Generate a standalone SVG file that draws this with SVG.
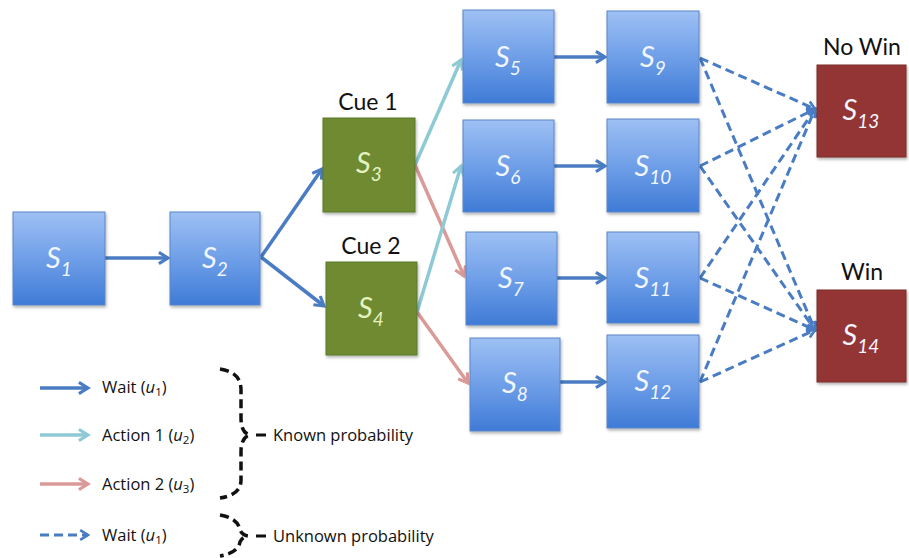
<svg xmlns="http://www.w3.org/2000/svg" width="909" height="558" viewBox="0 0 909 558">
<defs>
<linearGradient id="gb" x1="0" y1="0" x2="0" y2="1">
<stop offset="0" stop-color="#9ec0f4"/>
<stop offset="0.5" stop-color="#6f9fe8"/>
<stop offset="1" stop-color="#3f7bd6"/>
</linearGradient>
<filter id="sh" x="-10%" y="-10%" width="130%" height="130%">
<feDropShadow dx="1" dy="2" stdDeviation="1.5" flood-color="#000" flood-opacity="0.3"/>
</filter>
<marker id="ab" viewBox="0 0 10 10" refX="8" refY="5" markerWidth="4" markerHeight="4" orient="auto" markerUnits="strokeWidth"><path d="M1.5,1 L8,5 L1.5,9" fill="none" stroke="#4a7cc4" stroke-width="2.2" stroke-linejoin="miter"/></marker>
<marker id="al" viewBox="0 0 10 10" refX="8" refY="5" markerWidth="4" markerHeight="4" orient="auto" markerUnits="strokeWidth"><path d="M1.5,1 L8,5 L1.5,9" fill="none" stroke="#8ecad6" stroke-width="2.2"/></marker>
<marker id="ap" viewBox="0 0 10 10" refX="8" refY="5" markerWidth="4" markerHeight="4" orient="auto" markerUnits="strokeWidth"><path d="M1.5,1 L8,5 L1.5,9" fill="none" stroke="#d99a98" stroke-width="2.2"/></marker>
</defs>
<style>
.b{fill:url(#gb);stroke:#5a86c8;stroke-width:1;filter:url(#sh)}
.g{fill:#6f8a33;stroke:#5a7a2a;stroke-width:1;filter:url(#sh)}
.r{fill:#943634;stroke:#7a2a28;stroke-width:1;filter:url(#sh)}
.lb{font-family:Lato,"Open Sans",sans-serif;font-style:italic;font-size:29px;fill:#f2f6ff;text-anchor:middle}
.lg{fill:#e4f3c0}
.sub{font-size:19px}
.hd{font-family:Lato,"Open Sans",sans-serif;font-size:23px;fill:#111;text-anchor:middle}
.lt{font-family:"Open Sans",Lato,sans-serif;font-size:16.5px;fill:#111}
.lti{font-style:italic}
.w{fill:none;stroke:#4a7cc4;stroke-width:3.5;marker-end:url(#ab)}
.a1{fill:none;stroke:#8ecad6;stroke-width:3.5;marker-end:url(#al)}
.a2{fill:none;stroke:#d99a98;stroke-width:3.5;marker-end:url(#ap)}
.d{fill:none;stroke:#4a7cc4;stroke-width:3;stroke-dasharray:9 5;marker-end:url(#ab)}
.br{fill:none;stroke:#111;stroke-width:3.5;stroke-dasharray:9 5}
</style>

<g id="edges">
<line class="w" x1="104" y1="258" x2="168" y2="258"/>
<line class="w" x1="261" y1="257" x2="322" y2="169"/>
<line class="w" x1="261" y1="257" x2="324" y2="306"/>
<line class="a1" x1="415" y1="165" x2="461" y2="60"/>
<line class="a2" x1="415" y1="165" x2="464" y2="276"/>
<line class="a1" x1="417" y1="312" x2="461" y2="166"/>
<line class="a2" x1="417" y1="312" x2="468" y2="383"/>
<line class="w" x1="554" y1="57" x2="605" y2="57"/>
<line class="w" x1="554" y1="166" x2="605" y2="166"/>
<line class="w" x1="557" y1="278" x2="605" y2="278"/>
<line class="w" x1="560" y1="382" x2="605" y2="382"/>
<line class="d" x1="700" y1="58" x2="815" y2="109"/>
<line class="d" x1="700" y1="58" x2="815" y2="330"/>
<line class="d" x1="700" y1="166" x2="815" y2="109"/>
<line class="d" x1="700" y1="166" x2="815" y2="330"/>
<line class="d" x1="700" y1="278" x2="815" y2="109"/>
<line class="d" x1="700" y1="278" x2="815" y2="330"/>
<line class="d" x1="700" y1="382" x2="815" y2="109"/>
<line class="d" x1="700" y1="382" x2="815" y2="330"/>
</g>

<g id="s1"><rect class="b" x="13" y="212" width="92" height="93"/><text class="lb" x="59" y="268">S<tspan class="sub" dy="8">1</tspan></text></g>
<g id="s2"><rect class="b" x="170" y="212" width="90" height="93"/><text class="lb" x="215" y="268">S<tspan class="sub" dy="8">2</tspan></text></g>
<g id="s3"><text class="hd" x="368" y="110">Cue 1</text><rect class="g" x="323" y="118" width="92" height="94"/><text class="lb lg" x="369" y="173">S<tspan class="sub" dy="8">3</tspan></text></g>
<g id="s4"><text class="hd" x="371" y="254">Cue 2</text><rect class="g" x="326" y="262" width="91" height="93"/><text class="lb lg" x="371" y="318">S<tspan class="sub" dy="8">4</tspan></text></g>
<g id="s5"><rect class="b" x="463" y="10" width="91" height="93"/><text class="lb" x="508" y="67">S<tspan class="sub" dy="8">5</tspan></text></g>
<g id="s6"><rect class="b" x="463" y="120" width="91" height="92"/><text class="lb" x="508" y="176">S<tspan class="sub" dy="8">6</tspan></text></g>
<g id="s7"><rect class="b" x="466" y="232" width="91" height="93"/><text class="lb" x="511" y="288">S<tspan class="sub" dy="8">7</tspan></text></g>
<g id="s8"><rect class="b" x="470" y="338" width="90" height="93"/><text class="lb" x="515" y="393">S<tspan class="sub" dy="8">8</tspan></text></g>
<g id="s9"><rect class="b" x="607" y="11" width="92" height="92"/><text class="lb" x="653" y="67">S<tspan class="sub" dy="8">9</tspan></text></g>
<g id="s10"><rect class="b" x="607" y="119" width="92" height="93"/><text class="lb" x="653" y="176">S<tspan class="sub" dy="8">10</tspan></text></g>
<g id="s11"><rect class="b" x="607" y="232" width="92" height="91"/><text class="lb" x="653" y="288">S<tspan class="sub" dy="8">11</tspan></text></g>
<g id="s12"><rect class="b" x="607" y="335" width="92" height="93"/><text class="lb" x="653" y="391">S<tspan class="sub" dy="8">12</tspan></text></g>
<g id="s13"><text class="hd" x="862" y="55">No Win</text><rect class="r" x="817" y="65" width="89" height="92"/><text class="lb" x="861" y="120">S<tspan class="sub" dy="8">13</tspan></text></g>
<g id="s14"><text class="hd" x="862" y="280">Win</text><rect class="r" x="817" y="290" width="89" height="92"/><text class="lb" x="861" y="345">S<tspan class="sub" dy="8">14</tspan></text></g>

<g id="legend">
<line class="w" x1="40" y1="388" x2="88" y2="388"/>
<text class="lt" x="102" y="393">Wait (<tspan class="lti">u</tspan><tspan font-size="11.5" dy="3">1</tspan><tspan dy="-3">)</tspan></text>
<line class="a1" x1="40" y1="435" x2="88" y2="435"/>
<text class="lt" x="102" y="441">Action 1 (<tspan class="lti">u</tspan><tspan font-size="11.5" dy="3">2</tspan><tspan dy="-3">)</tspan></text>
<line class="a2" x1="40" y1="484" x2="88" y2="484"/>
<text class="lt" x="102" y="490">Action 2 (<tspan class="lti">u</tspan><tspan font-size="11.5" dy="3">3</tspan><tspan dy="-3">)</tspan></text>
<line class="d" x1="40" y1="535" x2="88" y2="535"/>
<text class="lt" x="102" y="541">Wait (<tspan class="lti">u</tspan><tspan font-size="11.5" dy="3">1</tspan><tspan dy="-3">)</tspan></text>
<path class="br" d="M220,369 Q241,372 241,390 L241,418 Q241,433 250,435 Q241,437 241,452 L241,480 Q241,495 220,498"/>
<line x1="256" y1="435" x2="266" y2="435" stroke="#111" stroke-width="3"/>
<text class="lt" x="273" y="441">Known probability</text>
<path class="br" d="M220,515 Q238,518 240,530 Q242,535 248,536 Q242,537 240,542 Q238,553 220,556"/>
<line x1="256" y1="536" x2="266" y2="536" stroke="#111" stroke-width="3"/>
<text class="lt" x="273" y="542">Unknown probability</text>
</g>
</svg>
